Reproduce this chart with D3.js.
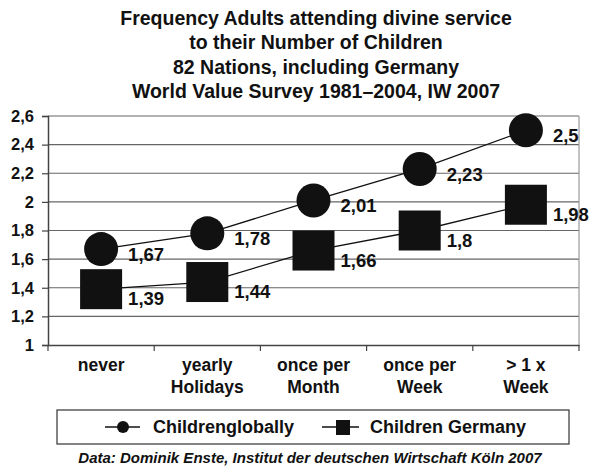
<!DOCTYPE html>
<html><head><meta charset="utf-8">
<script src="https://cdn.jsdelivr.net/npm/d3@7"></script>
<style>body{margin:0;background:#fff}svg{display:block;font-family:"Liberation Sans",Arial,sans-serif}</style>
</head><body><svg id="c" width="592" height="467"></svg>
<script>
const titleLines = ["Frequency Adults attending divine service","to their Number of Children","82 Nations, including Germany","World Value Survey 1981\u20132004, IW 2007"];
const categories = [["never"],["yearly","Holidays"],["once per","Month"],["once per","Week"],["> 1 x","Week"]];
const globalValues = [1.67,1.78,2.01,2.23,2.5];
const germanyValues = [1.39,1.44,1.66,1.8,1.98];
const globalLabels = ["1,67","1,78","2,01","2,23","2,5"];
const germanyLabels = ["1,39","1,44","1,66","1,8","1,98"];
const yTicks = [1,1.2,1.4,1.6,1.8,2,2.2,2.4,2.6];
const seriesNames = ["Childrenglobally","Children Germany"];
const footer = "Data: Dominik Enste, Institut der deutschen Wirtschaft K\u00f6ln 2007";

const svg = d3.select("#c");
const L=48,R=579,T=116,B=345;
const x = d3.scaleBand().domain(d3.range(categories.length)).range([L,R]);
const y = d3.scaleLinear().domain([1,2.6]).range([B,T]);
const fmt = d => String(d).replace(".",",");

svg.append("g").selectAll("text").data(titleLines).join("text")
  .attr("x",316).attr("y",(d,i)=>25+i*24.3).attr("text-anchor","middle")
  .attr("font-weight","bold").attr("font-size",19.5).attr("fill","#111").text(d=>d);

// gridlines
svg.append("g").selectAll("line").data(yTicks.slice(1)).join("line")
  .attr("x1",L).attr("x2",R).attr("y1",d=>y(d)).attr("y2",d=>y(d))
  .attr("stroke","#666").attr("stroke-width",1.2);
svg.append("line").attr("x1",R).attr("x2",R).attr("y1",T).attr("y2",B).attr("stroke","#999").attr("stroke-width",1.2);

// y axis
const ya = svg.append("g").attr("transform",`translate(${L},0)`)
  .call(d3.axisLeft(y).tickValues(yTicks).tickFormat(fmt).tickSize(6).tickPadding(8));
ya.select(".domain").attr("stroke","#444").attr("stroke-width",1.5);
ya.selectAll(".tick line").attr("stroke","#444").attr("stroke-width",1.2);
ya.selectAll("text").attr("font-size",16.5).attr("font-weight","bold").attr("fill","#111").attr("font-family","Liberation Sans, Arial, sans-serif");

// x axis
const xa = svg.append("g").attr("transform",`translate(0,${B})`)
  .call(d3.axisBottom(x).tickSize(0).tickFormat(""));
xa.select(".domain").attr("stroke","#444").attr("stroke-width",1.5);
const bounds = d3.range(categories.length+1).map(i=>i<categories.length?x(i):R);
xa.selectAll(".bt").data(bounds).join("line").attr("class","bt")
  .attr("x1",d=>d).attr("x2",d=>d).attr("y1",0).attr("y2",6).attr("stroke","#444").attr("stroke-width",1.2);
const xl = svg.append("g").selectAll("text").data(categories).join("text")
  .attr("text-anchor","middle").attr("font-size",17.5).attr("font-weight","bold").attr("fill","#111")
  .attr("transform",(d,i)=>`translate(${x(i)+x.bandwidth()/2},371)`);
xl.selectAll("tspan").data(d=>d).join("tspan").attr("x",0).attr("dy",(d,i)=>i?21.5:0).text(d=>d);

const cx = i => x(i)+x.bandwidth()/2;
const line = d3.line().x((d,i)=>cx(i)).y(d=>y(d));
svg.append("path").attr("d",line(globalValues)).attr("fill","none").attr("stroke","#111").attr("stroke-width",1.3);
svg.append("path").attr("d",line(germanyValues)).attr("fill","none").attr("stroke","#111").attr("stroke-width",1.3);

svg.append("g").selectAll("circle").data(globalValues).join("circle")
  .attr("cx",(d,i)=>cx(i)).attr("cy",d=>y(d)).attr("r",17).attr("fill","#111");
svg.append("g").selectAll("rect").data(germanyValues).join("rect")
  .attr("x",(d,i)=>cx(i)-21).attr("y",d=>y(d)-20).attr("width",42).attr("height",40).attr("fill","#111");

svg.append("g").selectAll("text").data(globalValues).join("text")
  .attr("x",(d,i)=>cx(i)+27).attr("y",d=>y(d)+12).attr("font-size",18.5).attr("font-weight","bold").attr("fill","#111")
  .text((d,i)=>globalLabels[i]);
svg.append("g").selectAll("text").data(germanyValues).join("text")
  .attr("x",(d,i)=>cx(i)+27).attr("y",d=>y(d)+16).attr("font-size",18.5).attr("font-weight","bold").attr("fill","#111")
  .text((d,i)=>germanyLabels[i]);

// legend
const lg = svg.append("g");
lg.append("rect").attr("x",57).attr("y",410).attr("width",512).attr("height",34).attr("fill","#fff").attr("stroke","#333").attr("stroke-width",1.2);
lg.append("line").attr("x1",105).attr("x2",140).attr("y1",427).attr("y2",427).attr("stroke","#111").attr("stroke-width",1.5);
lg.append("circle").attr("cx",123).attr("cy",427).attr("r",6).attr("fill","#111");
lg.append("text").attr("x",153).attr("y",433).attr("font-size",18).attr("font-weight","bold").attr("fill","#111").text(seriesNames[0]);
lg.append("line").attr("x1",322).attr("x2",359).attr("y1",427).attr("y2",427).attr("stroke","#111").attr("stroke-width",1.5);
lg.append("rect").attr("x",336).attr("y",420).attr("width",14).attr("height",15).attr("fill","#111");
lg.append("text").attr("x",370).attr("y",433).attr("font-size",18).attr("font-weight","bold").attr("fill","#111").text(seriesNames[1]);

svg.append("text").attr("x",310).attr("y",463).attr("text-anchor","middle").attr("font-size",15)
  .attr("font-weight","bold").attr("font-style","italic").attr("fill","#111").text(footer);
</script></body></html>
